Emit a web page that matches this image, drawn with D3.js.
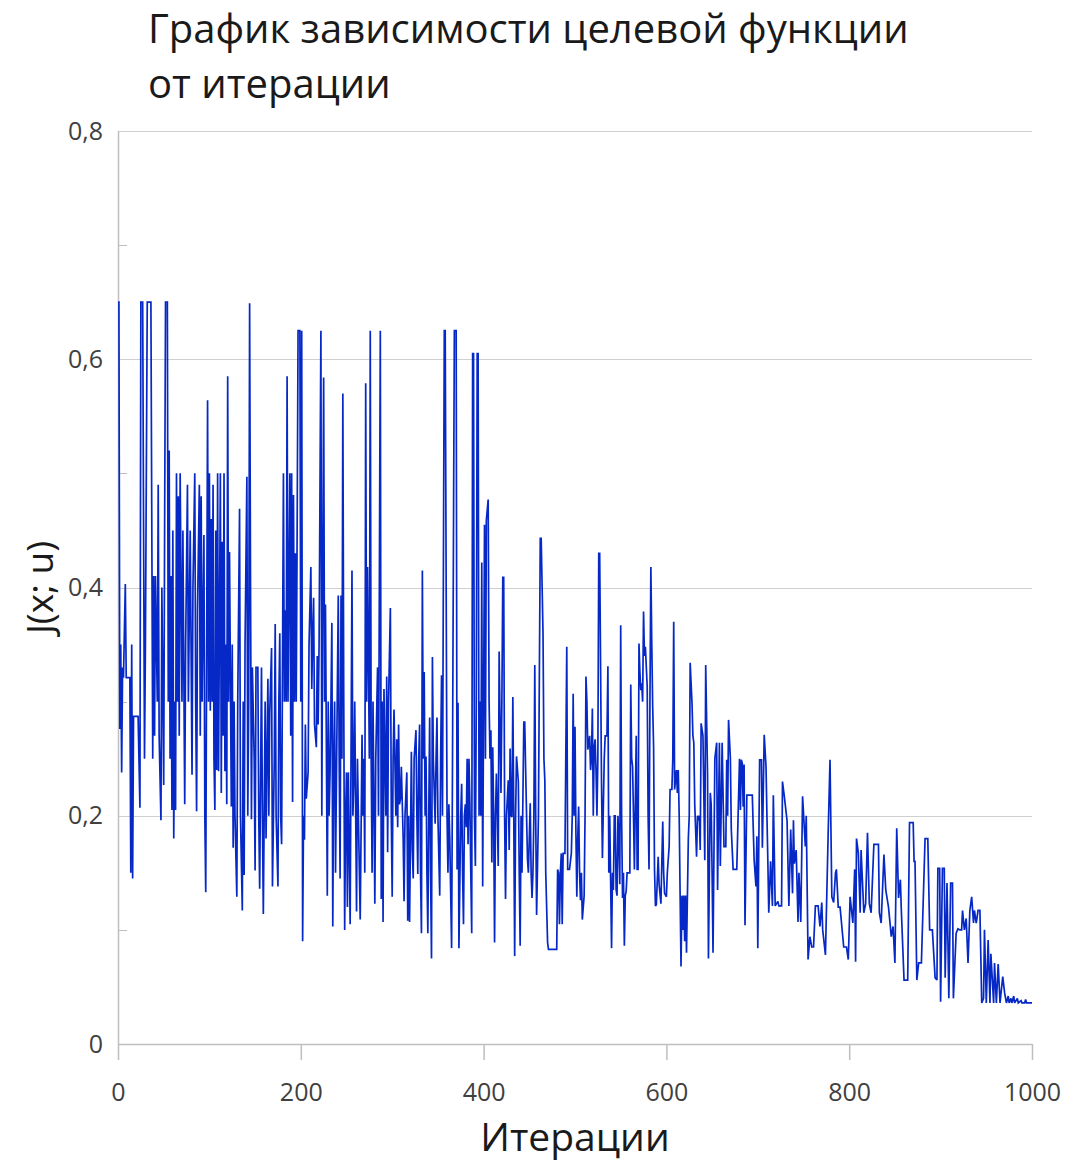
<!DOCTYPE html>
<html lang="ru">
<head>
<meta charset="utf-8">
<title>График зависимости целевой функции от итерации</title>
<script src="https://cdn.jsdelivr.net/npm/d3@7/dist/d3.min.js"></script>
<style>
  html, body { margin: 0; padding: 0; background: #ffffff; }
  svg { display: block; font-family: "Open Sans", "Noto Sans", sans-serif; }
</style>
</head>
<body>
<svg id="chart" width="1065" height="1165"></svg>
<script>
// Objective function value J(x; u) recorded at selected iterations
const iterations = [
  0, 1, 2, 3, 4, 5, 6, 8, 9, 13,
  14, 15, 16, 17, 22, 24, 25, 27, 29, 30,
  32, 36, 38, 39, 40, 41, 43, 44, 45, 47,
  48, 50, 51, 52, 54, 55, 56, 57, 58, 59,
  60, 61, 62, 63, 64, 65, 66, 67, 68, 70,
  71, 73, 74, 76, 77, 79, 81, 82, 84, 85,
  86, 87, 89, 90, 91, 92, 94, 95, 96, 98,
  99, 100, 101, 102, 103, 104, 105, 106, 107, 108,
  109, 110, 112, 113, 114, 115, 116, 117, 118, 119,
  120, 121, 122, 124, 125, 126, 127, 128, 130, 131,
  133, 134, 136, 137, 138, 139, 141, 142, 143, 144,
  145, 146, 147, 149, 150, 151, 153, 154, 155, 157,
  158, 159, 161, 162, 164, 165, 166, 168, 169, 171,
  172, 173, 175, 176, 177, 178, 179, 181, 182, 183,
  184, 185, 186, 188, 189, 190, 191, 192, 193, 194,
  195, 196, 197, 199, 200, 201, 202, 203, 204, 205,
  206, 208, 209, 211, 212, 213, 214, 215, 217, 218,
  219, 220, 222, 223, 224, 225, 226, 227, 229, 230,
  231, 232, 233, 234, 235, 236, 237, 238, 241, 242,
  243, 244, 245, 246, 247, 248, 249, 250, 251, 252,
  254, 256, 257, 258, 259, 261, 262, 263, 265, 267,
  268, 269, 270, 271, 272, 273, 275, 276, 277, 278,
  279, 281, 282, 284, 285, 287, 288, 289, 290, 291,
  293, 294, 295, 296, 298, 299, 300, 301, 302, 304,
  305, 306, 307, 308, 309, 310, 312, 313, 314, 316,
  317, 318, 319, 321, 322, 323, 324, 326, 327, 328,
  329, 330, 331, 332, 333, 334, 335, 336, 337, 338,
  339, 340, 341, 342, 343, 344, 345, 347, 348, 349,
  350, 352, 353, 354, 355, 357, 358, 360, 361, 362,
  363, 365, 366, 368, 370, 371, 372, 373, 375, 376,
  377, 378, 379, 380, 381, 382, 383, 384, 385, 386,
  387, 388, 389, 390, 391, 392, 393, 394, 395, 396,
  397, 398, 399, 400, 401, 402, 403, 405, 406, 407,
  408, 409, 410, 411, 412, 413, 414, 415, 416, 417,
  419, 420, 421, 422, 423, 424, 425, 427, 428, 429,
  430, 431, 432, 433, 434, 435, 436, 438, 439, 440,
  441, 442, 444, 445, 446, 448, 449, 451, 452, 453,
  454, 455, 456, 457, 458, 460, 462, 463, 465, 466,
  467, 468, 470, 471, 480, 481, 482, 483, 484, 485,
  486, 487, 489, 491, 492, 494, 496, 497, 498, 499,
  500, 501, 502, 503, 504, 505, 506, 507, 508, 510,
  511, 512, 513, 514, 516, 517, 518, 519, 520, 521,
  522, 523, 524, 525, 526, 527, 529, 530, 531, 532,
  533, 535, 536, 537, 538, 540, 541, 542, 543, 544,
  545, 546, 547, 548, 549, 550, 551, 552, 553, 554,
  555, 556, 557, 560, 561, 562, 563, 564, 565, 567,
  568, 569, 570, 571, 572, 573, 574, 575, 576, 577,
  579, 580, 581, 582, 583, 584, 585, 586, 587, 588,
  589, 591, 592, 594, 596, 597, 598, 600, 601, 603,
  604, 606, 607, 608, 609, 611, 612, 613, 614, 615,
  616, 617, 618, 619, 620, 621, 622, 624, 625, 626,
  628, 629, 630, 631, 633, 634, 635, 636, 637, 638,
  640, 642, 643, 645, 646, 648, 649, 650, 651, 653,
  655, 656, 658, 659, 661, 663, 665, 666, 667, 668,
  670, 671, 673, 677, 680, 681, 682, 683, 684, 685,
  686, 688, 694, 696, 698, 699, 700, 702, 704, 705,
  707, 709, 710, 711, 712, 714, 716, 717, 719, 722,
  723, 726, 727, 729, 732, 734, 736, 738, 739, 740,
  742, 744, 745, 747, 749, 752, 753, 755, 757, 759,
  761, 763, 766, 768, 770, 771, 774, 777, 779, 781,
  783, 785, 786, 788, 790, 794, 797, 799, 801, 804,
  806, 807, 808, 810, 812, 813, 816, 818, 820, 822,
  824, 827, 832, 833, 835, 838, 840, 843, 845, 846,
  848, 850, 852, 854, 856, 857, 860, 864, 866, 870,
  871, 872, 874, 876, 879, 883, 886, 888, 891, 894,
  896, 897, 899, 900, 902, 904, 905, 907, 909, 911,
  913, 914, 917, 919, 921, 923, 924, 926, 928, 930,
  932, 934, 936, 937, 939, 941, 943, 945, 947, 948,
  950, 952, 954, 955, 958, 959, 961, 963, 965, 968,
  970, 972, 974, 975, 977, 978, 980, 981, 984, 985,
  988, 989, 992, 993, 994, 997, 1000
];

const jValues = [
  0.65, 0.65, 0.276, 0.35, 0.238, 0.33, 0.321, 0.403, 0.321, 0.321,
  0.15, 0.35, 0.145, 0.287, 0.287, 0.207, 0.65, 0.65, 0.25, 0.35,
  0.65, 0.65, 0.25, 0.41, 0.27, 0.41, 0.3, 0.49, 0.27, 0.196,
  0.4, 0.227, 0.45, 0.65, 0.65, 0.3, 0.52, 0.25, 0.41, 0.205,
  0.45, 0.18, 0.3, 0.205, 0.5, 0.3, 0.48, 0.27, 0.5, 0.3,
  0.45, 0.21, 0.35, 0.49, 0.3, 0.45, 0.236, 0.4, 0.5, 0.3,
  0.204, 0.38, 0.49, 0.27, 0.48, 0.3, 0.446, 0.2, 0.133, 0.564,
  0.3, 0.5, 0.292, 0.46, 0.3, 0.49, 0.25, 0.205, 0.45, 0.24,
  0.5, 0.239, 0.5, 0.22, 0.44, 0.27, 0.5, 0.239, 0.35, 0.21,
  0.585, 0.3, 0.431, 0.208, 0.35, 0.172, 0.3, 0.2, 0.129, 0.3,
  0.469, 0.2, 0.117, 0.3, 0.148, 0.35, 0.497, 0.2, 0.3, 0.649,
  0.4, 0.197, 0.33, 0.25, 0.152, 0.33, 0.33, 0.2, 0.136, 0.33,
  0.2, 0.114, 0.3, 0.18, 0.32, 0.2, 0.29, 0.347, 0.138, 0.25,
  0.368, 0.2, 0.138, 0.3, 0.36, 0.2, 0.175, 0.5, 0.3, 0.38,
  0.3, 0.585, 0.3, 0.5, 0.27, 0.5, 0.212, 0.481, 0.3, 0.43,
  0.3, 0.45, 0.625, 0.625, 0.3, 0.625, 0.09, 0.2, 0.179, 0.28,
  0.215, 0.238, 0.35, 0.418, 0.311, 0.36, 0.391, 0.28, 0.26, 0.34,
  0.28, 0.35, 0.625, 0.2, 0.4, 0.584, 0.3, 0.385, 0.13, 0.3,
  0.2, 0.238, 0.3, 0.369, 0.103, 0.25, 0.3, 0.15, 0.393, 0.25,
  0.145, 0.393, 0.25, 0.57, 0.3, 0.1, 0.2, 0.238, 0.12, 0.238,
  0.105, 0.415, 0.2, 0.23, 0.3, 0.116, 0.25, 0.2, 0.109, 0.271,
  0.2, 0.25, 0.15, 0.579, 0.3, 0.418, 0.25, 0.625, 0.25, 0.15,
  0.3, 0.123, 0.25, 0.33, 0.2, 0.625, 0.127, 0.3, 0.107, 0.311,
  0.2, 0.322, 0.168, 0.3, 0.382, 0.2, 0.129, 0.25, 0.293, 0.2,
  0.267, 0.19, 0.28, 0.21, 0.215, 0.243, 0.18, 0.125, 0.2, 0.238,
  0.108, 0.2, 0.107, 0.256, 0.17, 0.145, 0.25, 0.275, 0.2, 0.149,
  0.25, 0.28, 0.15, 0.097, 0.415, 0.25, 0.326, 0.2, 0.252, 0.15,
  0.097, 0.2, 0.286, 0.15, 0.075, 0.339, 0.25, 0.193, 0.25, 0.286,
  0.2, 0.13, 0.25, 0.323, 0.2, 0.625, 0.625, 0.2, 0.15, 0.21,
  0.18, 0.084, 0.25, 0.625, 0.625, 0.153, 0.299, 0.084, 0.2, 0.228,
  0.15, 0.105, 0.2, 0.21, 0.19, 0.25, 0.175, 0.25, 0.21, 0.15,
  0.097, 0.605, 0.605, 0.2, 0.156, 0.3, 0.605, 0.605, 0.2, 0.3,
  0.2, 0.422, 0.138, 0.3, 0.455, 0.25, 0.459, 0.477, 0.3, 0.25,
  0.275, 0.159, 0.26, 0.2, 0.089, 0.2, 0.237, 0.2, 0.156, 0.344,
  0.22, 0.3, 0.409, 0.409, 0.199, 0.127, 0.2, 0.231, 0.17, 0.259,
  0.2, 0.199, 0.304, 0.2, 0.077, 0.2, 0.252, 0.23, 0.15, 0.086,
  0.2, 0.15, 0.282, 0.282, 0.24, 0.162, 0.15, 0.211, 0.15, 0.128,
  0.15, 0.2, 0.332, 0.2, 0.113, 0.2, 0.443, 0.443, 0.36, 0.25,
  0.231, 0.15, 0.089, 0.083, 0.083, 0.153, 0.15, 0.105, 0.15, 0.167,
  0.105, 0.167, 0.167, 0.348, 0.153, 0.153, 0.167, 0.2, 0.307, 0.2,
  0.278, 0.185, 0.129, 0.18, 0.208, 0.15, 0.126, 0.15, 0.109, 0.13,
  0.2, 0.322, 0.3, 0.258, 0.27, 0.24, 0.25, 0.294, 0.2, 0.26,
  0.267, 0.24, 0.2, 0.25, 0.43, 0.43, 0.23, 0.163, 0.208, 0.25,
  0.27, 0.27, 0.331, 0.15, 0.2, 0.084, 0.15, 0.135, 0.2, 0.2,
  0.135, 0.13, 0.2, 0.18, 0.14, 0.367, 0.2, 0.128, 0.15, 0.086,
  0.13, 0.134, 0.15, 0.15, 0.315, 0.25, 0.243, 0.2, 0.153, 0.27,
  0.153, 0.153, 0.351, 0.326, 0.31, 0.316, 0.3, 0.379, 0.34, 0.348,
  0.313, 0.2, 0.153, 0.3, 0.418, 0.35, 0.296, 0.26, 0.153, 0.121,
  0.122, 0.164, 0.14, 0.123, 0.195, 0.15, 0.132, 0.129, 0.15, 0.173,
  0.223, 0.223, 0.25, 0.37, 0.223, 0.24, 0.22, 0.24, 0.2, 0.131,
  0.068, 0.13, 0.1, 0.13, 0.09, 0.13, 0.08, 0.18, 0.2, 0.334,
  0.299, 0.27, 0.264, 0.21, 0.164, 0.2, 0.196, 0.2, 0.17, 0.281,
  0.27, 0.161, 0.332, 0.237, 0.075, 0.22, 0.21, 0.15, 0.08, 0.25,
  0.264, 0.135, 0.264, 0.156, 0.264, 0.173, 0.173, 0.249, 0.2, 0.284,
  0.25, 0.188, 0.153, 0.153, 0.25, 0.205, 0.249, 0.246, 0.208, 0.245,
  0.104, 0.218, 0.218, 0.161, 0.138, 0.182, 0.084, 0.249, 0.249, 0.172,
  0.271, 0.243, 0.2, 0.16, 0.115, 0.16, 0.121, 0.218, 0.121, 0.125,
  0.121, 0.121, 0.23, 0.217, 0.196, 0.121, 0.188, 0.132, 0.196, 0.158,
  0.17, 0.107, 0.15, 0.107, 0.217, 0.173, 0.2, 0.074, 0.094, 0.085,
  0.085, 0.121, 0.121, 0.103, 0.124, 0.1, 0.078, 0.185, 0.249, 0.129,
  0.124, 0.15, 0.153, 0.12, 0.12, 0.085, 0.085, 0.074, 0.129, 0.106,
  0.153, 0.072, 0.18, 0.167, 0.115, 0.17, 0.115, 0.123, 0.185, 0.123,
  0.115, 0.175, 0.175, 0.115, 0.106, 0.166, 0.135, 0.12, 0.103, 0.094,
  0.103, 0.071, 0.189, 0.128, 0.144, 0.118, 0.056, 0.056, 0.194, 0.194,
  0.16, 0.16, 0.056, 0.071, 0.071, 0.18, 0.18, 0.1, 0.1, 0.058,
  0.056, 0.154, 0.154, 0.037, 0.154, 0.154, 0.058, 0.141, 0.04, 0.141,
  0.141, 0.04, 0.097, 0.101, 0.1, 0.1, 0.117, 0.1, 0.11, 0.071,
  0.117, 0.129, 0.106, 0.117, 0.106, 0.117, 0.117, 0.036, 0.04, 0.1,
  0.036, 0.091, 0.036, 0.079, 0.036, 0.071, 0.036, 0.07, 0.036, 0.059,
  0.045, 0.036, 0.042, 0.036, 0.04, 0.036, 0.042, 0.036, 0.04, 0.036,
  0.038, 0.036, 0.036, 0.039, 0.036, 0.036, 0.036
];

// Axis ticks and labels
const xTicks = [0, 200, 400, 600, 800, 1000];
const yMajorTicks = [0, 0.2, 0.4, 0.6, 0.8];
const yMinorTicks = [0.1, 0.3, 0.5, 0.7];
const titleLines = ["График зависимости целевой функции", "от итерации"];
const xAxisTitle = "Итерации";
const yAxisTitle = "J(x; u)";

const plot = { left: 118, right: 1032, top: 131, bottom: 1044 };

const ru = d3.formatLocale({ decimal: ",", thousands: "\u00a0", grouping: [3], currency: ["", " ₽"] });
const fmtY = ru.format("~g");

const svg = d3.select("#chart");
svg.append("rect").attr("width", 1065).attr("height", 1165).attr("fill", "#ffffff");

const x = d3.scaleLinear().domain([0, 1000]).range([plot.left, plot.right]);
const y = d3.scaleLinear().domain([0, 0.8]).range([plot.bottom, plot.top]);

// Horizontal gridlines at major y ticks
svg.append("g")
  .selectAll("line")
  .data(yMajorTicks.filter(d => d > 0))
  .join("line")
  .attr("x1", plot.left).attr("x2", plot.right)
  .attr("y1", d => Math.round(y(d)) + 0.5).attr("y2", d => Math.round(y(d)) + 0.5)
  .attr("stroke", "#cfcfcf").attr("stroke-width", 1);

// Y axis: labels only, the axis line is drawn separately
const yAxis = svg.append("g")
  .attr("transform", `translate(${plot.left},0)`)
  .call(d3.axisLeft(y).tickValues(yMajorTicks).tickFormat(fmtY).tickSize(0).tickPadding(15));
yAxis.select(".domain").remove();
yAxis.selectAll("text")
  .attr("font-family", "'Open Sans', sans-serif")
  .attr("font-size", 25)
  .attr("fill", "#404040");

// Minor y ticks pointing into the plot
svg.append("g")
  .selectAll("line")
  .data(yMinorTicks)
  .join("line")
  .attr("x1", plot.left).attr("x2", plot.left + 9)
  .attr("y1", d => Math.round(y(d)) + 0.5).attr("y2", d => Math.round(y(d)) + 0.5)
  .attr("stroke", "#bfbfbf").attr("stroke-width", 1);

// Vertical axis line
svg.append("line")
  .attr("x1", plot.left + 0.5).attr("x2", plot.left + 0.5)
  .attr("y1", plot.top).attr("y2", plot.bottom)
  .attr("stroke", "#bfbfbf").attr("stroke-width", 1.5);

// X axis with downward ticks
const xAxis = svg.append("g")
  .attr("transform", `translate(0,${plot.bottom})`)
  .call(d3.axisBottom(x).tickValues(xTicks).tickFormat(d3.format("d")).tickSize(16).tickSizeOuter(0).tickPadding(23));
xAxis.select(".domain").attr("stroke", "#bfbfbf").attr("stroke-width", 1.5);
xAxis.selectAll(".tick line").attr("stroke", "#bfbfbf").attr("stroke-width", 1.5);
xAxis.selectAll("text")
  .attr("font-family", "'Open Sans', sans-serif")
  .attr("font-size", 25)
  .attr("fill", "#404040");

// Objective function trace
const points = iterations.map((it, k) => [it, jValues[k]]);
const line = d3.line().x(d => x(d[0])).y(d => y(d[1]));
svg.append("path")
  .datum(points)
  .attr("d", line)
  .attr("fill", "none")
  .attr("stroke", "#0628c6")
  .attr("stroke-width", 1.7)
  .attr("stroke-linejoin", "miter")
  .attr("stroke-miterlimit", 2);

// Title
svg.append("text")
  .attr("x", 148).attr("y", 43)
  .attr("font-size", 40)
  .attr("fill", "#1a1a1a")
  .selectAll("tspan")
  .data(titleLines)
  .join("tspan")
  .attr("x", 148)
  .attr("dy", (d, k) => k === 0 ? 0 : 55)
  .text(d => d);

// Axis titles
svg.append("text")
  .attr("x", (plot.left + plot.right) / 2).attr("y", 1151)
  .attr("text-anchor", "middle")
  .attr("font-size", 39)
  .attr("fill", "#1a1a1a")
  .text(xAxisTitle);

svg.append("text")
  .attr("transform", `translate(53,${(plot.top + plot.bottom) / 2}) rotate(-90)`)
  .attr("text-anchor", "middle")
  .attr("font-size", 37)
  .attr("fill", "#1a1a1a")
  .text(yAxisTitle);
</script>
</body>
</html>
